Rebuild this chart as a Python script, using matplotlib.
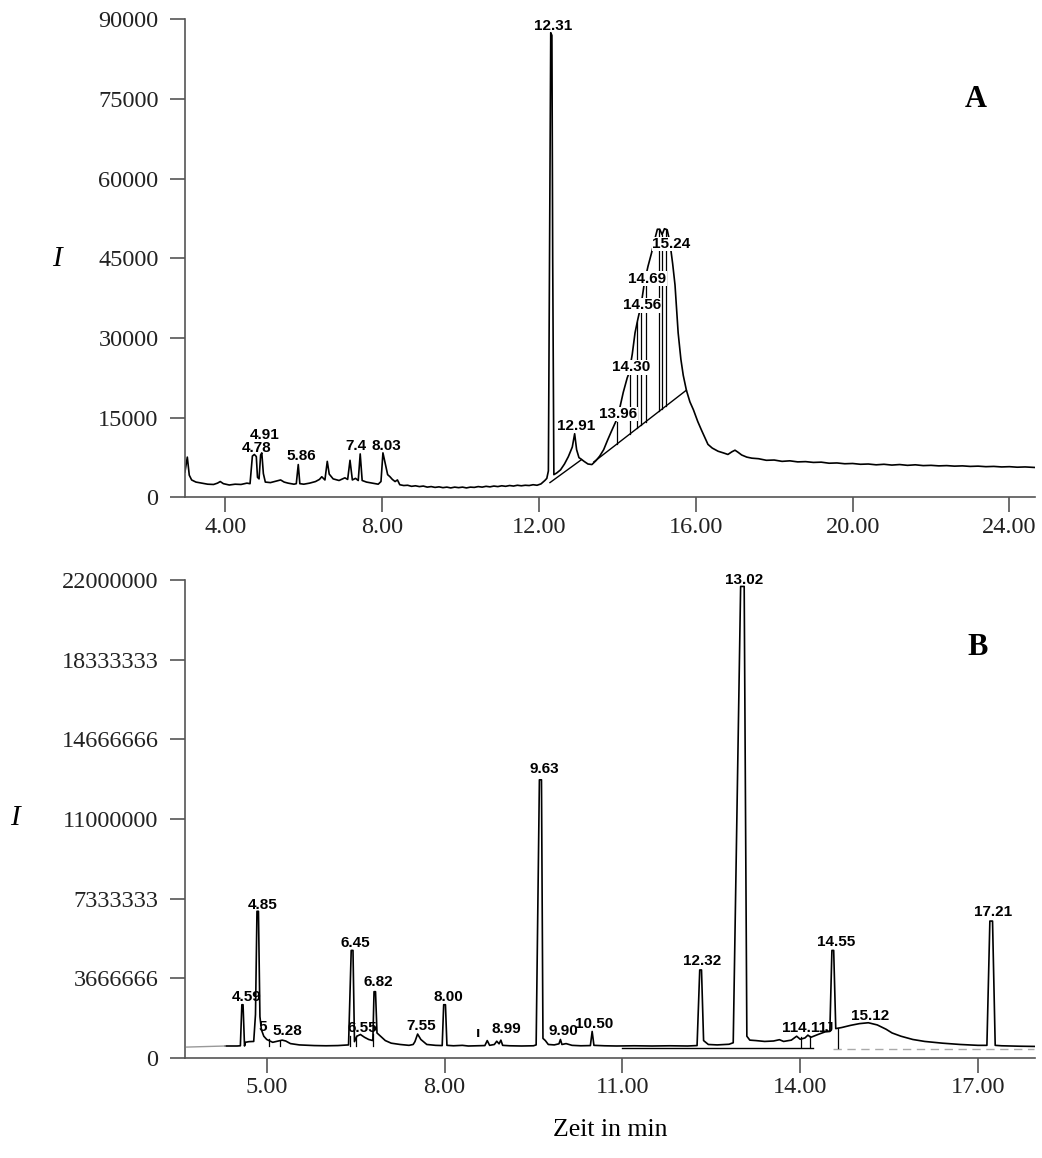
import numpy as np
import matplotlib
matplotlib.use("Agg")
import matplotlib.pyplot as plt

# ── Chromatogram A (intensity in counts) ──────────────────────────────────────
time_a = [2.97, 3.03, 3.08, 3.14, 3.25, 3.40, 3.55, 3.70, 3.80, 3.87, 3.95, 4.10,
          4.25, 4.40, 4.55, 4.63, 4.69, 4.74, 4.79, 4.82, 4.86, 4.90, 4.93, 4.97,
          5.02, 5.15, 5.30, 5.41, 5.50, 5.60, 5.75, 5.81, 5.86, 5.90, 6.00, 6.15,
          6.30, 6.40, 6.46, 6.54, 6.60, 6.65, 6.75, 6.90, 7.05, 7.12, 7.18, 7.24,
          7.32, 7.39, 7.44, 7.49, 7.60, 7.75, 7.90, 7.97, 8.02, 8.08, 8.14, 8.20,
          8.26, 8.33, 8.39, 8.45, 8.55, 8.65, 8.75, 8.85, 8.95, 9.05, 9.15, 9.25,
          9.35, 9.45, 9.55, 9.65, 9.75, 9.85, 9.95, 10.05, 10.15, 10.25, 10.35,
          10.45, 10.55, 10.65, 10.75, 10.85, 10.95, 11.05, 11.15, 11.25, 11.35,
          11.45, 11.55, 11.65, 11.75, 11.85, 11.95,
          12.05, 12.15, 12.20, 12.24, 12.28, 12.30, 12.33, 12.35, 12.38, 12.45,
          12.55, 12.65, 12.75, 12.85, 12.91, 12.96, 13.02, 13.08, 13.15, 13.25,
          13.35, 13.45, 13.55, 13.65, 13.75, 13.85, 13.96, 14.05, 14.15, 14.25,
          14.30, 14.38, 14.45, 14.52, 14.56, 14.62, 14.69, 14.78, 14.87, 14.95,
          15.02, 15.08, 15.14, 15.20, 15.27, 15.34, 15.41, 15.47, 15.55, 15.62,
          15.68, 15.76, 15.85, 15.94, 16.05, 16.15, 16.25, 16.31, 16.42, 16.57,
          16.70, 16.82, 16.92, 17.00, 17.08, 17.17, 17.30, 17.43, 17.60, 17.80,
          18.00, 18.20, 18.40, 18.60, 18.80, 19.00, 19.20, 19.40, 19.60, 19.80,
          20.00, 20.20, 20.40, 20.60, 20.80, 21.00, 21.20, 21.40, 21.60, 21.80,
          22.00, 22.20, 22.40, 22.60, 22.80, 23.00, 23.20, 23.40, 23.60, 23.80,
          24.00, 24.20, 24.40, 24.65]
inten_a = [4800, 7600, 4200, 3300, 2900, 2700, 2500, 2450, 2700, 3000, 2600, 2350,
           2500, 2450, 2700, 2600, 7800, 8100, 7700, 3800, 3500, 8000, 8400, 4500,
           2900, 2800, 3100, 3300, 2900, 2700, 2500, 2600, 6200, 2600, 2500, 2700,
           3000, 3400, 3900, 3300, 6800, 4400, 3500, 3200, 3700, 3400, 7000, 3300,
           3600, 3200, 8200, 3200, 2900, 2700, 2500, 3000, 8400, 6300, 4300, 3900,
           3400, 3000, 3300, 2400, 2250, 2300, 2100, 2200, 2050, 2150, 1950, 2050,
           1900, 2000, 1850, 1950, 1800, 1950, 1850, 1950, 1800, 1950, 1900,
           2050, 1950, 2100, 2000, 2150, 2050, 2200, 2100, 2250, 2150,
           2300, 2200, 2300, 2250, 2400, 2300,
           2550, 3200, 3600, 5000, 60000, 87500, 87000, 45000, 4300, 4600,
           5200, 6300, 7700, 9500, 12000, 9000, 7500, 7200, 6800, 6300,
           6200, 6900, 7800, 9000, 10800, 12500, 14300, 16500, 19800, 22500,
           23500, 27000, 31000, 33500, 34800, 37000, 40500, 43500, 46000, 48500,
           50500, 50500, 49500, 50600, 50400, 48000, 44000, 40000, 31000, 26000,
           23000, 20200, 18000, 16500, 14300, 12600, 11000, 10000, 9300, 8700,
           8400, 8100, 8600, 8900, 8500, 8000, 7600, 7400, 7300, 7000,
           7050, 6800, 6900, 6700, 6750, 6600, 6650, 6450, 6500, 6350,
           6400, 6250, 6300, 6150, 6250, 6100, 6200, 6050, 6150, 6000,
           6050, 5950, 6000, 5900, 5950, 5850, 5900, 5800, 5850, 5750,
           5800, 5700, 5750, 5650]

# integration baseline under the big hump, and drop lines
base_a_t = [[12.28, 13.08], [13.40, 15.76]]
base_a_i = [[2800, 7100], [6700, 20200]]
drop_a_t = [13.99, 14.33, 14.50, 14.60, 14.72, 15.06, 15.14, 15.23]
drop_a_top = [14300, 23500, 33000, 36000, 41000, 50500, 49500, 50600]

labels_a = ["4.78", "4.91", "5.86", "7.4", "8.03", "12.31", "12.91", "13.96",
            "14.30", "14.56", "14.69", "15.24"]
label_a_t = [4.80, 4.99, 5.94, 7.33, 8.11, 12.36, 12.94, 14.02, 14.36, 14.62, 14.76, 15.37]
label_a_i = [9300, 11800, 7800, 9600, 9700, 88700, 13400, 15700, 24500, 36200, 41200, 47700]
label_a_box = [False, False, False, False, False, False, False, True,
               True, True, True, True]

yticks_a = [0, 15000, 30000, 45000, 60000, 75000, 90000]
xticks_a = [4, 8, 12, 16, 20, 24]

# ── Chromatogram B (intensity in millions) ────────────────────────────────────
time_b = [4.30, 4.50, 4.555, 4.58, 4.60, 4.625, 4.64, 4.70, 4.78, 4.81, 4.835, 4.86,
          4.885, 4.91, 4.95, 5.00, 5.10, 5.20, 5.26, 5.32, 5.40, 5.55, 5.80, 6.00,
          6.20, 6.38, 6.425, 6.455, 6.48, 6.52, 6.58, 6.65, 6.72, 6.79, 6.81, 6.835,
          6.86, 6.92, 7.00, 7.10, 7.25, 7.40, 7.47, 7.50, 7.545, 7.60, 7.70, 7.85,
          7.96, 7.985, 8.015, 8.04, 8.15, 8.30, 8.40, 8.55, 8.68, 8.72, 8.76, 8.84,
          8.88, 8.92, 8.95, 8.98, 9.10, 9.30, 9.50, 9.545, 9.60, 9.635, 9.66, 9.70,
          9.75, 9.85, 9.93, 9.955, 9.98, 10.05, 10.15, 10.30, 10.46, 10.49, 10.52,
          10.70, 10.90, 11.20, 11.50, 11.80, 12.10, 12.26, 12.305, 12.335, 12.37,
          12.45, 12.60, 12.80, 12.87, 12.995, 13.055, 13.10, 13.15, 13.25, 13.40,
          13.55, 13.65, 13.72, 13.85, 13.94, 14.00, 14.08, 14.13, 14.18, 14.30,
          14.42, 14.50, 14.535, 14.565, 14.60, 14.70, 14.85, 15.00, 15.15, 15.30,
          15.45, 15.55, 15.70, 15.90, 16.10, 16.40, 16.70, 17.00, 17.15, 17.20,
          17.245, 17.29, 17.40, 17.70, 17.96]
inten_b = [0.55, 0.55, 0.56, 2.45, 2.45, 0.55, 0.72, 0.75, 0.76, 2.0, 6.75, 6.75,
           1.9, 1.3, 1.0, 0.85, 0.72, 0.78, 0.82, 0.78, 0.66, 0.60, 0.57, 0.56,
           0.57, 0.60, 4.95, 4.95, 0.75, 1.0, 1.08, 0.95, 0.85, 0.80, 3.05, 3.05,
           1.15, 1.0, 0.80, 0.68, 0.62, 0.58, 0.62, 0.75, 1.1, 0.85, 0.62, 0.58,
           0.57, 2.45, 2.45, 0.58, 0.56, 0.58, 0.55, 0.56, 0.57, 0.80, 0.58, 0.62,
           0.77, 0.65, 0.82, 0.58, 0.56, 0.55, 0.56, 0.60, 12.8, 12.8, 0.90, 0.80,
           0.62, 0.60, 0.65, 0.85, 0.62, 0.66, 0.58, 0.56, 0.57, 1.22, 0.58,
           0.56, 0.55, 0.56, 0.55, 0.56, 0.55, 0.57, 4.05, 4.05, 0.80,
           0.62, 0.60, 0.63, 0.70, 21.7, 21.7, 1.0, 0.82, 0.80, 0.76,
           0.78, 0.84, 0.76, 0.82, 1.00, 0.86, 0.92, 1.05, 0.95, 1.08,
           1.20, 1.22, 4.95, 4.95, 1.35, 1.40, 1.50, 1.58, 1.62, 1.52,
           1.32, 1.15, 1.00, 0.85, 0.76, 0.68, 0.62, 0.58, 0.58, 6.3,
           6.3, 0.58, 0.56, 0.54, 0.53]

drop_b_t = [5.04, 5.22, 6.41, 6.51, 6.80, 14.02, 14.16, 14.64]
drop_b_top = [0.85, 0.80, 1.00, 1.00, 1.10, 0.95, 1.00, 1.38]
drop_b_bot = [0.55, 0.55, 0.55, 0.55, 0.55, 0.50, 0.50, 0.45]

labels_b = ["4.59", "4.85", "5", "5.28", "6.45", "6.55", "6.82", "7.55", "8.00", "ı",
            "8.99", "9.63", "9.90", "10.50", "12.32", "13.02", "114.11", "J", "14.55",
            "15.12", "17.21"]
label_b_t = [4.66, 4.93, 4.93, 5.34, 6.49, 6.61, 6.88, 7.61, 8.06, 8.56,
             9.04, 9.69, 10.0, 10.53, 12.35, 13.06, 14.07, 14.49, 14.60,
             15.18, 17.26]
label_b_i = [2.81, 7.05, 1.43, 1.25, 5.3, 1.37, 3.48, 1.48, 2.81, 1.17,
             1.33, 13.3, 1.22, 1.56, 4.45, 22.0, 1.40, 1.37, 5.35,
             1.95, 6.71]

yticks_b = [0, 3666666, 7333333, 11000000, 14666666, 18333333, 22000000]
xticks_b = [5, 8, 11, 14, 17]

# ── Styling helpers ───────────────────────────────────────────────────────────
SERIF = "Liberation Serif"
PEAK_FONT = ["Liberation Sans Narrow", "Liberation Sans"]
AXIS_GREY = "#555555"


def style_axis(ax, xlim, ylim, xticks, yticks):
    ax.set_xlim(*xlim)
    ax.set_ylim(*ylim)
    for side in ("top", "right"):
        ax.spines[side].set_visible(False)
    for side in ("left", "bottom"):
        ax.spines[side].set_color(AXIS_GREY)
        ax.spines[side].set_linewidth(1.2)
    ax.set_xticks(xticks)
    ax.set_xticklabels([f"{v:.2f}" for v in xticks])
    ax.set_yticks(yticks)
    ax.set_yticklabels([str(v) for v in yticks])
    ax.tick_params(axis="y", direction="out", length=11, width=1.2,
                   color=AXIS_GREY, pad=8, labelsize=17.5, labelcolor="#222222")
    ax.tick_params(axis="x", direction="out", length=11, width=1.2,
                   color=AXIS_GREY, pad=3, labelsize=17.5, labelcolor="#222222")
    for lab in ax.get_xticklabels() + ax.get_yticklabels():
        lab.set_family(SERIF)


fig = plt.figure(figsize=(10.42, 11.58), dpi=100)
ax_a = fig.add_axes([0.1775, 0.5704, 0.8157, 0.4128])
ax_b = fig.add_axes([0.1775, 0.0864, 0.8157, 0.4128])

# ── Panel A ───────────────────────────────────────────────────────────────────
ax_a.plot(time_a, inten_a, color="black", lw=1.2)
for bt, bi in zip(base_a_t, base_a_i):
    ax_a.plot(bt, bi, color="black", lw=1.0)
all_bt = np.concatenate(base_a_t)
all_bi = np.concatenate(base_a_i)
for t, top in zip(drop_a_t, drop_a_top):
    ax_a.plot([t, t], [np.interp(t, all_bt, all_bi), top], color="black", lw=0.9)
for s, t, i, boxed in zip(labels_a, label_a_t, label_a_i, label_a_box):
    box = dict(facecolor="white", edgecolor="none", pad=0.2) if boxed else None
    ax_a.text(t, i, s, ha="center", va="center", fontsize=11, fontweight="bold",
              family=PEAK_FONT, zorder=4, clip_on=False, bbox=box)
ax_a.text(23.15, 75000, "A", ha="center", va="center", fontsize=22,
          fontweight="bold", family=SERIF)
style_axis(ax_a, (2.97, 24.65), (0, 90000), xticks_a, yticks_a)

# ── Panel B ───────────────────────────────────────────────────────────────────
tb = np.array(time_b)
ib = np.array(inten_b) * 1e6
ax_b.plot(tb, ib, color="black", lw=1.2)
ax_b.plot([3.65, 4.30], [0.5e6, 0.55e6], color="#999999", lw=1.0)
ax_b.plot([11.0, 14.22], [0.48e6, 0.48e6], color="black", lw=1.0)
ax_b.plot([14.55, 17.95], [0.42e6, 0.42e6], color="#aaaaaa", lw=1.0, ls=(0, (6, 4)))
for t, top, bot in zip(drop_b_t, drop_b_top, drop_b_bot):
    ax_b.plot([t, t], [bot * 1e6, top * 1e6], color="black", lw=0.9)
for s, t, i in zip(labels_b, label_b_t, label_b_i):
    ax_b.text(t, i * 1e6, s, ha="center", va="center", fontsize=11,
              fontweight="bold", family=PEAK_FONT, zorder=4, clip_on=False)
ax_b.text(17.0, 18.9e6, "B", ha="center", va="center", fontsize=22,
          fontweight="bold", family=SERIF)
style_axis(ax_b, (3.62, 17.96), (0, 22000000), xticks_b, yticks_b)

# ── Figure-level labels ───────────────────────────────────────────────────────
fig.text(0.0547, 0.7763, "I", fontsize=21, style="italic", family=SERIF,
         ha="center", va="center")
fig.text(0.0144, 0.2936, "I", fontsize=21, style="italic", family=SERIF,
         ha="center", va="center")
fig.text(0.5854, 0.0242, "Zeit in min", fontsize=18.5, family=SERIF,
         ha="center", va="center")

fig.savefig("out.png", dpi=100, facecolor="white")
